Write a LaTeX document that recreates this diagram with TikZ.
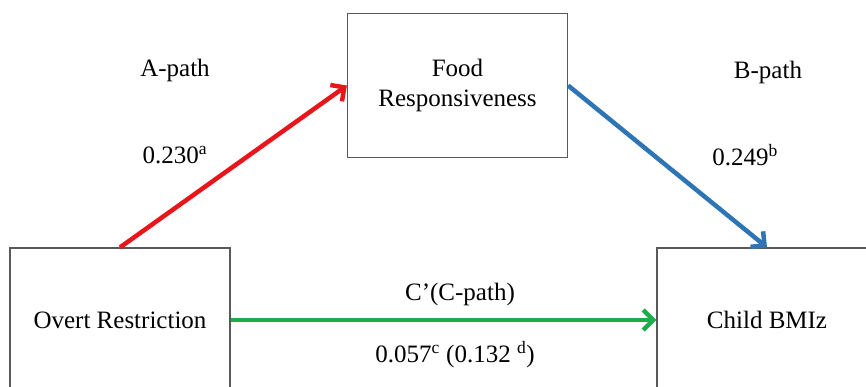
\documentclass[tikz,border=0pt]{standalone}
\usepackage{fontspec}
\setmainfont{Liberation Serif}
\usetikzlibrary{arrows.meta}
\definecolor{pathred}{HTML}{E8161B}
\definecolor{pathblue}{HTML}{2E75B6}
\definecolor{pathgreen}{HTML}{1DAB4B}
\definecolor{boxgray}{HTML}{595959}

\begin{document}
\begin{tikzpicture}[x=1pt, y=-1pt,
  >={Straight Barb[length=10pt, width=20pt]},
  varbox/.style={draw=boxgray, line width=1.2pt, minimum width=220pt,
    minimum height=144pt, align=center, inner sep=0pt, font=\fontsize{25}{30}\selectfont},
  pathlbl/.style={font=\fontsize{25}{30}\selectfont},
  patharrow/.style={->, line width=4.5pt}]

% Canvas
\useasboundingbox (0,0) rectangle (866,387);
\clip (0,0) rectangle (866,387);

% --- Variables ---
\node[varbox] (food) at (457.5,85.5) {Food\\Responsiveness};
\node[varbox] (overt) at (120,320) {Overt Restriction};
\node[varbox] (bmiz) at (767,320) {Child BMIz};

% --- Paths ---
\draw[patharrow, pathred] (overt.north) -- (food.west);
\draw[patharrow, pathblue] (food.east) -- (bmiz.north);
\draw[patharrow, pathgreen] (overt.east) -- (bmiz.west);

% --- Labels ---
\node[pathlbl] (alabel) at (175,70) {A-path};
\node[pathlbl] (acoef) at (175,155) {0.230\textsuperscript{a}};
\node[pathlbl] (blabel) at (768,72) {B-path};
\node[pathlbl] (bcoef) at (745,155) {0.249\textsuperscript{b}};
\node[pathlbl] (clabel) at (460,294) {C’(C-path)};
\node[pathlbl] (ccoef) at (455,355) {0.057\textsuperscript{c} (0.132 \textsuperscript{d})};

\end{tikzpicture}
\end{document}
